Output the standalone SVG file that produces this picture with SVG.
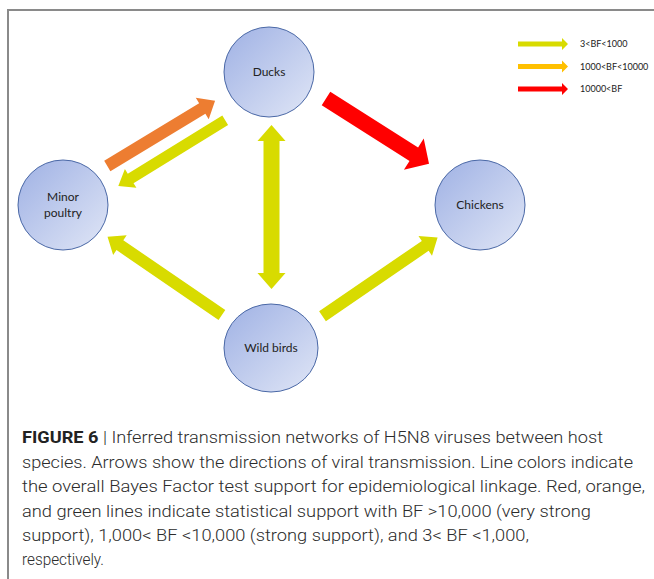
<svg xmlns="http://www.w3.org/2000/svg" width="654" height="579" viewBox="0 0 654 579">
  <style>
    .node { stroke: #4a68a6; stroke-width: 1; fill: url(#nodeFill); }
    .lbl { font-family: Lato, "Open Sans", sans-serif; font-size: 12px; fill: #222; text-anchor: middle; }
    .leg { font-family: Lato, "Open Sans", sans-serif; font-size: 9px; fill: #222; }
    .cap { font-family: Roboto, "Liberation Sans", Arial, sans-serif; font-weight: 300; font-size: 16.5px; fill: #2b2b2b; }
    .capb { font-weight: 700; fill: #222; }
    .yel { fill: #d8db00; }
    .org { fill: #ed7d31; }
    .red { fill: #ff0000; }
    .gold { fill: #ffc000; }
  </style>
  <defs>
    <linearGradient id="nodeFill" x1="0" y1="0" x2="1" y2="1">
      <stop offset="0" stop-color="#9fb1e4"/>
      <stop offset="1" stop-color="#e0e6f6"/>
    </linearGradient>
  </defs>

  <rect width="654" height="579" fill="#ffffff"/>
  <!-- figure frame -->
  <path d="M8,580 V10 H655" fill="none" stroke="#8a8a8a" stroke-width="2"/>

  <!-- connectors -->
  <g id="connectors">
    <!-- Ducks -> Chickens (red) -->
    <path class="red" transform="translate(326,98.5) rotate(32.4)" d="M0,-8 H104 V-18.5 L122,0 L104,18.5 V8 H0 Z"/>
    <!-- Minor poultry -> Ducks (orange) -->
    <path class="org" transform="translate(107.3,166) rotate(-31.2)" d="M0,-6 H111 V-12.5 L126,0 L111,12.5 V6 H0 Z"/>
    <!-- Ducks -> Minor poultry (yellow) -->
    <path class="yel" transform="translate(225.2,120.3) rotate(148.4)" d="M0,-5.5 H111 V-11 L125.5,0 L111,11 V5.5 H0 Z"/>
    <!-- Ducks <-> Wild birds (yellow) -->
    <path class="yel" d="M271.5,125 L285.5,141 H279.5 V273 H285.5 L271.5,289 L257.5,273 H263.5 V141 H257.5 Z"/>
    <!-- Wild birds -> Minor poultry (yellow) -->
    <path class="yel" transform="translate(221.9,315) rotate(-145.6)" d="M0,-6 H123.6 V-12 L138.6,0 L123.6,12 V6 H0 Z"/>
    <!-- Wild birds -> Chickens (yellow) -->
    <path class="yel" transform="translate(322.5,316.2) rotate(-34.4)" d="M0,-6 H124.5 V-12 L139.5,0 L124.5,12 V6 H0 Z"/>
  </g>

  <!-- nodes -->
  <g id="ducks">
    <ellipse class="node" cx="269" cy="72" rx="45" ry="45"/>
    <text class="lbl" x="269" y="76">Ducks</text>
  </g>
  <g id="minor-poultry">
    <ellipse class="node" cx="63" cy="205" rx="45" ry="45"/>
    <text class="lbl" x="63" y="201">Minor</text>
    <text class="lbl" x="63" y="217">poultry</text>
  </g>
  <g id="chickens">
    <ellipse class="node" cx="480" cy="205" rx="45" ry="45"/>
    <text class="lbl" x="480" y="209">Chickens</text>
  </g>
  <g id="wild-birds">
    <ellipse class="node" cx="271" cy="348" rx="47" ry="44"/>
    <text class="lbl" x="271" y="352">Wild birds</text>
  </g>

  <!-- legend -->
  <g id="legend">
    <path class="yel" d="M518,41.5 H562 V38 L568,44 L562,50 V46.5 H518 Z"/>
    <text class="leg" x="580" y="47">3&lt;BF&lt;1000</text>
    <path class="gold" d="M518,64 H562 V60.5 L568,66.5 L562,72.5 V69 H518 Z"/>
    <text class="leg" x="580" y="69.5">1000&lt;BF&lt;10000</text>
    <path class="red" d="M518,86.5 H562 V83 L568,89 L562,95 V91.5 H518 Z"/>
    <text class="leg" x="580" y="92">10000&lt;BF</text>
  </g>

  <!-- caption -->
  <g id="caption">
    <text class="cap" x="22" y="443" textLength="581" lengthAdjust="spacingAndGlyphs"><tspan class="capb">FIGURE 6</tspan> | Inferred transmission networks of H5N8 viruses between host</text>
    <text class="cap" x="22" y="468" textLength="611" lengthAdjust="spacingAndGlyphs">species. Arrows show the directions of viral transmission. Line colors indicate</text>
    <text class="cap" x="22" y="492" textLength="623" lengthAdjust="spacingAndGlyphs">the overall Bayes Factor test support for epidemiological linkage. Red, orange,</text>
    <text class="cap" x="22" y="517" textLength="569" lengthAdjust="spacingAndGlyphs">and green lines indicate statistical support with BF &gt;10,000 (very strong</text>
    <text class="cap" x="22" y="541" textLength="507" lengthAdjust="spacingAndGlyphs">support), 1,000&lt; BF &lt;10,000 (strong support), and 3&lt; BF &lt;1,000,</text>
    <text class="cap" x="22" y="565" textLength="82" lengthAdjust="spacingAndGlyphs">respectively.</text>
  </g>
</svg>
